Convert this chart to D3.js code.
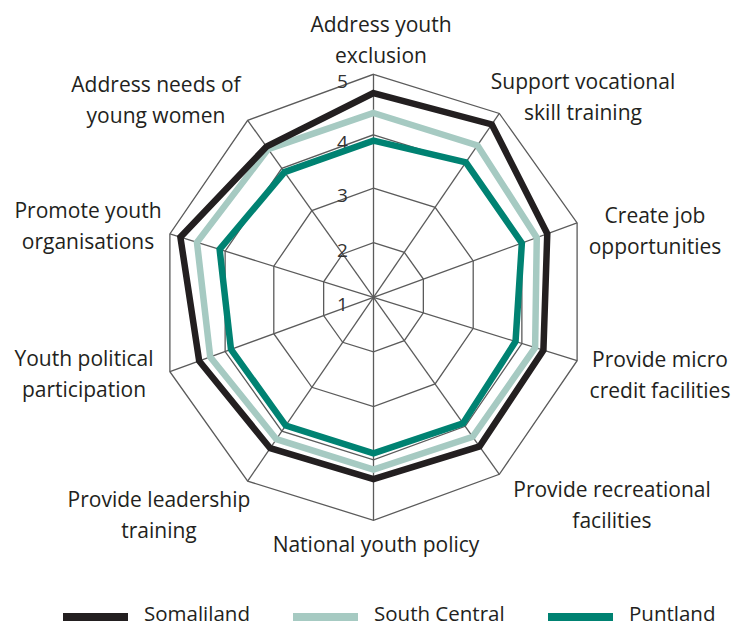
<!DOCTYPE html>
<html>
<head>
<meta charset="utf-8">
<script src="https://cdn.jsdelivr.net/npm/d3@7"></script>
<style>
  html, body { margin: 0; padding: 0; background: #fff; }
  svg { display: block; }
  text { font-family: "Open Sans", "Noto Sans", sans-serif; fill: #231f20; }
</style>
</head>
<body>
<svg id="chart" width="734" height="627"></svg>
<script>
// ---- data ----
const categories = [
  "Address youth\nexclusion",
  "Support vocational\nskill training",
  "Create job\nopportunities",
  "Provide micro\ncredit facilities",
  "Provide recreational\nfacilities",
  "National youth policy",
  "Provide leadership\ntraining",
  "Youth political\nparticipation",
  "Promote youth\norganisations",
  "Address needs of\nyoung women"
];
const seriesNames = ["Somaliland", "South Central", "Puntland"];
const somaliland   = [4.69, 4.78, 4.46, 4.39, 4.42, 4.32, 4.34, 4.47, 4.81, 4.45];
const southCentral = [4.36, 4.36, 4.27, 4.24, 4.22, 4.16, 4.16, 4.27, 4.51, 4.40];
const puntland     = [3.89, 4.02, 4.00, 3.87, 3.93, 3.88, 3.87, 3.88, 4.10, 3.91];
const tickValues = [1, 2, 3, 4, 5];

// ---- layout ----
const svg = d3.select("#chart");
const cx = 373.5, cy = 297.3;
const kx = 0.96, shear = 0.027;
const colors = ["#231f20", "#a6cac2", "#008272"];
const seriesData = [somaliland, southCentral, puntland];

const n = categories.length;
const angle = d3.scaleLinear().domain([0, n]).range([0, 2 * Math.PI]);
const r = d3.scaleLinear().domain([1, 2, 3, 4, 5]).range([0, 54.6, 109.2, 162.5, 223]);

function proj(i, v) {
  const a = angle(i), rr = r(v);
  const dx = kx * rr * Math.sin(a);
  const dy = -rr * Math.cos(a) - shear * dx;
  return [cx + dx, cy + dy];
}

const g = svg.append("g");

// grid rings
const ring = d3.line().curve(d3.curveLinearClosed);
tickValues.filter(t => t > 1).forEach(t => {
  g.append("path")
    .attr("d", ring(d3.range(n).map(i => proj(i, t))))
    .attr("fill", "none").attr("stroke", "#5b5b5b").attr("stroke-width", 1.3);
});
// spokes
d3.range(n).forEach(i => {
  const p = proj(i, 5);
  g.append("line")
    .attr("x1", cx).attr("y1", cy).attr("x2", p[0]).attr("y2", p[1])
    .attr("stroke", "#5b5b5b").attr("stroke-width", 1.3);
});

// tick labels
tickValues.forEach(t => {
  const p = proj(0, t);
  g.append("text")
    .attr("x", p[0] - 31).attr("y", p[1] + 14)
    .attr("text-anchor", "middle")
    .style("font-size", "19px").style("fill", "#333")
    .text(t);
});

// series (draw Puntland first, Somaliland on top)
[2, 1, 0].forEach(s => {
  g.append("path")
    .attr("d", ring(seriesData[s].map((v, i) => proj(i, v))))
    .attr("fill", "none")
    .attr("stroke", colors[s])
    .attr("stroke-width", 6.5)
    .attr("stroke-linejoin", "miter");
});

// category labels (block center x, first baseline y)
const labelPos = [
  [381, 32], [583, 89], [655, 223], [660, 367], [612, 497],
  [376, 552], [159, 507], [84, 366], [88, 218], [156, 92]
];
categories.forEach((c, i) => {
  const lines = c.split("\n");
  const t = svg.append("text")
    .attr("text-anchor", "middle")
    .style("font-size", "21px");
  lines.forEach((ln, k) => {
    t.append("tspan").attr("x", labelPos[i][0]).attr("y", labelPos[i][1] + k * 31).text(ln);
  });
});

// legend
const legendX = [63, 293, 548];
const legend = svg.append("g");
seriesNames.forEach((name, s) => {
  legend.append("line")
    .attr("x1", legendX[s]).attr("x2", legendX[s] + 65)
    .attr("y1", 617).attr("y2", 617)
    .attr("stroke", colors[s]).attr("stroke-width", 8);
  legend.append("text")
    .attr("x", legendX[s] + 81).attr("y", 621)
    .style("font-size", "20.5px")
    .text(name);
});
</script>
</body>
</html>
